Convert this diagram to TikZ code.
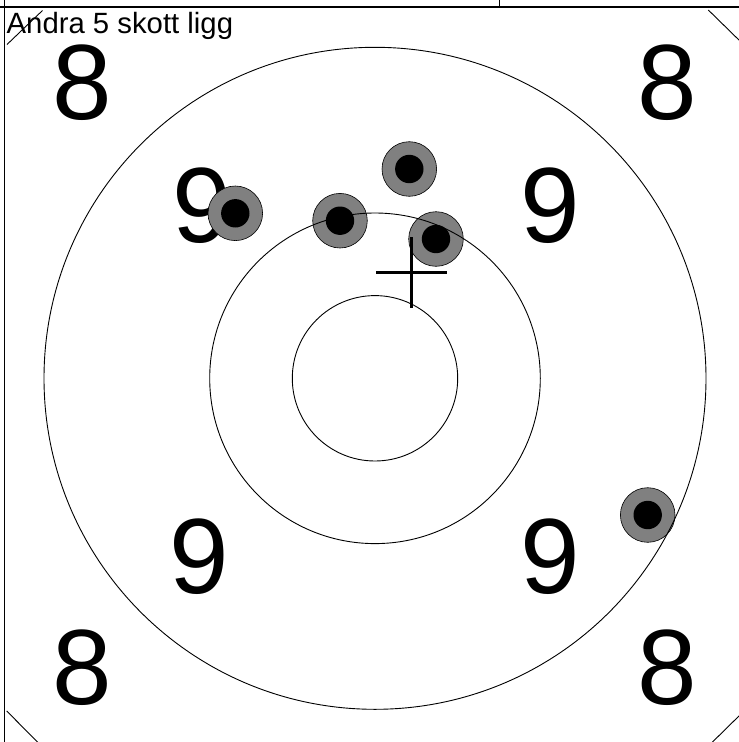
\documentclass[tikz,border=0pt]{standalone}
\usepackage{fontspec}
\setmainfont{Liberation Sans}
\definecolor{holegray}{RGB}{128,128,128}
\tikzset{
  ring/.style={draw=black, line width=0.9pt},
  hole/.style={circle, draw=black, line width=0.6pt, fill=holegray, minimum size=54.6pt, inner sep=0pt},
  dot/.style={circle, fill=black, minimum size=28.4pt, inner sep=0pt},
  bignum/.style={inner sep=0pt, font=\fontsize{107}{107}\selectfont},
  frame/.style={draw=black, line width=1.8pt},
  corner/.style={draw=black, line width=0.9pt},
  crossline/.style={draw=black, line width=3pt}
}
\begin{document}
\begin{tikzpicture}[x=1pt, y=-1pt]
\useasboundingbox (0,0) rectangle (739,742);
\fill[white] (0,0) rectangle (739,742);
\begin{scope}
\clip (0,0) rectangle (739,742);
\coordinate (c) at (375,378.3);
% big numbers
\node[bignum] (n8tl) at (82,83) {8};
\node[bignum] (n8tr) at (667,83) {8};
\node[bignum] (n8bl) at (82,668) {8};
\node[bignum] (n8br) at (667,668) {8};
\node[bignum] (n9tl) at (202,206) {9};
\node[bignum] (n9tr) at (550,206) {9};
\node[bignum] (n9bl) at (199,557) {9};
\node[bignum] (n9br) at (550,557) {9};
% holes
\foreach \n/\x/\y in {h1/235.3/213.3, h2/340/220.7, h3/409.3/169, h4/436/239, h5/647.7/515}{
  \node[hole] (\n) at (\x,\y) {};
  \node[dot] (\n d) at (\x,\y) {};
}
% rings
\draw[ring] (c) circle[radius=82.7];
\draw[ring] (c) circle[radius=165.3];
\draw[ring] (c) circle[radius=331];
% cross
\coordinate (xl) at (376,272.7);
\coordinate (xr) at (447.3,272.7);
\coordinate (xt) at (411.3,237.3);
\coordinate (xb) at (411.3,308);
\draw[crossline] (xl) -- (xr);
\draw[crossline] (xt) -- (xb);
% corner diagonals
\coordinate (a1) at (7,44.5);
\coordinate (a2) at (42.5,10.5);
\coordinate (b1) at (708.3,10);
\coordinate (b2) at (742,43);
\coordinate (d1) at (6.7,711);
\coordinate (d2) at (38,742.5);
\coordinate (e1) at (712,742.5);
\coordinate (e2) at (742,713);
\draw[corner] (a1) -- (a2);
\draw[corner] (b1) -- (b2);
\draw[corner] (d1) -- (d2);
\draw[corner] (e1) -- (e2);
% frame
\coordinate (f1) at (0,7);
\coordinate (f2) at (739,7);
\coordinate (g1) at (4.5,0);
\coordinate (g2) at (4.5,742);
\coordinate (k1) at (499.3,0);
\coordinate (k2) at (499.3,7);
\draw[frame] (f1) -- (f2);
\draw[frame] (g1) -- (g2);
\draw[frame, line width=1pt] (k1) -- (k2);
% label
\node[anchor=base west, inner sep=0pt, font=\fontsize{29.3}{29.3}\selectfont] (lbl) at (6.5,33.3) {Andra 5 skott ligg};
\end{scope}
\end{tikzpicture}
\end{document}
